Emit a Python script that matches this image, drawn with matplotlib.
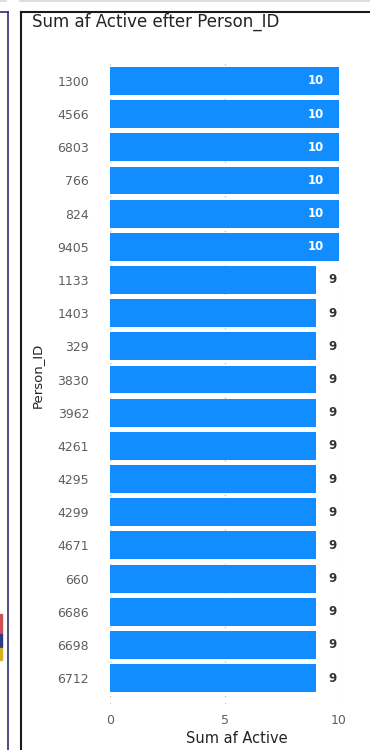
import matplotlib
matplotlib.use("Agg")
from matplotlib import pyplot as plt
from matplotlib.lines import Line2D
from matplotlib.patches import Rectangle

person_ids = ["1300", "4566", "6803", "766", "824", "9405", "1133", "1403", "329",
              "3830", "3962", "4261", "4295", "4299", "4671", "660", "6686", "6698", "6712"]
active_sum = [10, 10, 10, 10, 10, 10, 9, 9, 9, 9, 9, 9, 9, 9, 9, 9, 9, 9, 9]
x_ticks = [0, 5, 10]

plt.rcParams['font.family'] = ['DejaVu Sans']

W, H = 370, 750
fig = plt.figure(figsize=(W / 100, H / 100), dpi=100)
fig.patch.set_facecolor("white")


def px(x, y):
    return x / W, 1 - y / H


# surrounding report decorations
def fig_line(x0, y0, x1, y1, color, lw):
    a, b = px(x0, y0)
    c, d = px(x1, y1)
    fig.add_artist(Line2D([a, c], [b, d], color=color, lw=lw, transform=fig.transFigure))


fig_line(0, 0.5, 6, 0.5, "#d8d8dc", 1.2)
fig_line(20, 0.5, 370, 0.5, "#d8d8dc", 1.2)
fig_line(0, 12, 7.5, 12, "#2b2f6e", 1.2)
fig_line(7.5, 12, 7.5, 750, "#2b2f6e", 1.2)
fig_line(21, 12, 370, 12, "#1a1a1a", 1.5)
fig_line(21, 12, 21, 750, "#1a1a1a", 1.5)
for y0, y1, c in [(614, 634, "#d0505a"), (634, 648, "#2b3a8a"), (648, 660, "#d8b020")]:
    a, b = px(0, y1)
    fig.add_artist(Rectangle((a, b), 1.5 / W, (y1 - y0) / H, color=c,
                             transform=fig.transFigure))

fig.text(*px(32, 22), "Sum af Active efter Person_ID", fontsize=12, color="#252423",
         va="center", ha="left")

left, right, top, bottom = 110, 339, 62, 704
ax = fig.add_axes([left / W, 1 - bottom / H, (right - left) / W, (bottom - top) / H])

pos = list(range(len(person_ids)))
ax.barh(pos, active_sum, height=0.84, color="#118DFF", zorder=2)
ax.set_xlim(0, 10)
ax.set_ylim(18.78, -0.57)
ax.set_yticks(pos)
ax.set_yticklabels(person_ids)
ax.set_xticks(x_ticks)
ax.tick_params(length=0, labelsize=9, colors="#605E5C")
ax.tick_params(axis="y", pad=15)
ax.tick_params(axis="x", pad=7)
for s in ax.spines.values():
    s.set_visible(False)
ax.grid(axis="x", linestyle=(0, (1, 4)), color="#c8c6c4", lw=1, zorder=1)

for i, v in enumerate(active_sum):
    if v >= 10:
        ax.annotate(str(v), (v, i), xytext=(-11, 0), textcoords="offset points",
                    ha="right", va="center", color="white", fontsize=8.5, fontweight="bold")
    else:
        ax.annotate(str(v), (v, i), xytext=(9, 0), textcoords="offset points",
                    ha="left", va="center", color="#333333", fontsize=8.5, fontweight="bold")

ax.set_xlabel("Sum af Active", fontsize=10.5, color="#252423")
ax.xaxis.set_label_coords(0.552, -0.042)
ax.set_ylabel("Person_ID", fontsize=9.5, color="#252423")
ax.yaxis.set_label_coords(-0.29, 0.5125)

fig.savefig("out.png", dpi=100)
